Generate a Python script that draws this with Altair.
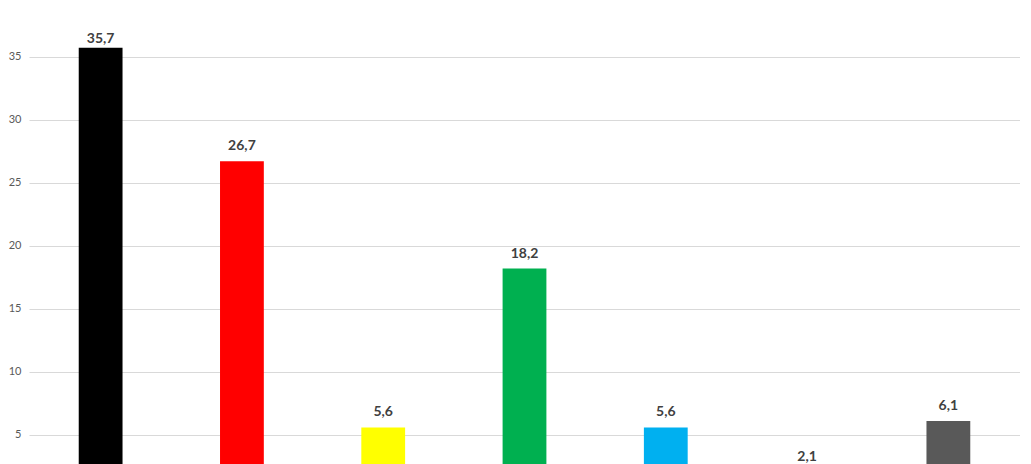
import altair as alt
import pandas as pd

parties = ["CDU", "SPD", "FDP", "GRÜNE", "AfD", "LINKE", "Sonstige"]
values = [35.7, 26.7, 5.6, 18.2, 5.6, 2.1, 6.1]
colors = ["#000000", "#FF0000", "#FFFF00", "#00B050", "#00B0F0", "#C00000", "#595959"]
y_ticks = [5, 10, 15, 20, 25, 30, 35]

df = pd.DataFrame({"party": parties, "value": values})

x = alt.X("party:N", sort=parties, axis=None,
          scale=alt.Scale(paddingInner=0.69, paddingOuter=0.352))
y = alt.Y("value:Q",
          scale=alt.Scale(domain=[0, 38.86], nice=False, zero=True),
          axis=alt.Axis(values=y_ticks, title=None, ticks=False, domain=False,
                        labelPadding=8, labelFontSize=11, labelColor="#595959",
                        labelFont="Lato", gridColor="#D9D9D9", gridWidth=1))

bars = alt.Chart(df).mark_bar().encode(
    x=x, y=y,
    color=alt.Color("party:N", scale=alt.Scale(domain=parties, range=colors), legend=None),
)

base_text = alt.Chart(df).transform_calculate(
    label="replace(format(datum.value, '.1f'), '.', ',')"
)

text_main = base_text.transform_filter("datum.value < 30").mark_text(
    baseline="bottom", dy=-8, font="Lato", fontSize=14, fontWeight="bold", color="#404040"
).encode(x=x, y=y, text="label:N")

text_top = base_text.transform_filter("datum.value >= 30").mark_text(
    baseline="bottom", dy=-2, font="Lato", fontSize=14, fontWeight="bold", color="#404040"
).encode(x=x, y=y, text="label:N")

chart = alt.layer(bars, text_main, text_top).properties(
    width=991, height=490, padding=0
).configure(background="white").configure_view(stroke=None, strokeWidth=0)

chart.save("out.html", embed_options={"renderer": "svg", "actions": False})
